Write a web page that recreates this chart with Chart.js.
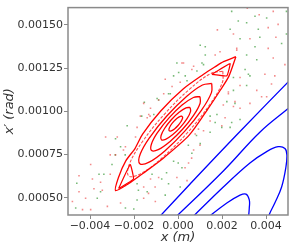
<!DOCTYPE html>
<html>
<head>
<meta charset="utf-8">
<script src="https://cdn.jsdelivr.net/npm/chart.js@4.4.1/dist/chart.umd.min.js"></script>
<style>
html, body { margin: 0; padding: 0; background: #fff; }
#wrap { width: 293px; height: 251px; }
</style>
</head>
<body>
<div id="wrap"><canvas id="phase" width="293" height="251"></canvas></div>
<script>
// axis ticks
var xTicks = [-0.004, -0.002, 0, 0.002, 0.004];
var yTicks = [0.0005, 0.00075, 0.001, 0.00125, 0.0015];

// red nested rings (x in m, x' in rad)
var ring1X = [0.000197, 0.000209, 0.000137, 0.000002, -0.000160, -0.000306, -0.000397, -0.000409, -0.000337, -0.000202, -0.000040, 0.000106];
var ring1Y = [0.000971, 0.000960, 0.000941, 0.000918, 0.000898, 0.000887, 0.000887, 0.000898, 0.000918, 0.000940, 0.000960, 0.000971];
var ring2X = [0.000554, 0.000569, 0.000404, 0.000104, -0.000250, -0.000564, -0.000754, -0.000769, -0.000604, -0.000304, 0.000050, 0.000364];
var ring2Y = [0.001022, 0.000998, 0.000956, 0.000907, 0.000864, 0.000838, 0.000836, 0.000860, 0.000902, 0.000951, 0.000994, 0.001020];
var ring3X = [0.001000, 0.001006, 0.000716, 0.000207, -0.000385, -0.000899, -0.001200, -0.001206, -0.000916, -0.000407, 0.000185, 0.000699];
var ring3Y = [0.001085, 0.001047, 0.000978, 0.000896, 0.000823, 0.000778, 0.000773, 0.000811, 0.000880, 0.000962, 0.001036, 0.001080];
var ring4X = [0.001535, 0.001520, 0.001072, 0.000309, -0.000564, -0.001312, -0.001735, -0.001720, -0.001272, -0.000509, 0.000364, 0.001112];
var ring4Y = [0.001161, 0.001108, 0.001007, 0.000885, 0.000775, 0.000706, 0.000697, 0.000751, 0.000851, 0.000973, 0.001083, 0.001152];
var ring5X = [0.002041, 0.002010, 0.001413, 0.000411, -0.000728, -0.001698, -0.002241, -0.002210, -0.001613, -0.000611, 0.000528, 0.001498];
var ring5Y = [0.001232, 0.001164, 0.001033, 0.000874, 0.000730, 0.000639, 0.000626, 0.000694, 0.000825, 0.000984, 0.001128, 0.001219];
var outerX = [0.002631, 0.002070, 0.001670, 0.001162, 0.000234, -0.000785, -0.001609, -0.001949, -0.002373, -0.002710, -0.002839, -0.002253, -0.001581, -0.000668, 0.000509, 0.001414, 0.001906, 0.002310];
var outerY = [0.001316, 0.001287, 0.001256, 0.001214, 0.001129, 0.001002, 0.000868, 0.000786, 0.000713, 0.000616, 0.000541, 0.000581, 0.000642, 0.000729, 0.000862, 0.001024, 0.001119, 0.001202];
var islandTopX = [0.001539, 0.002367, 0.002217];
var islandTopY = [0.001214, 0.001276, 0.001205];
var islandLowX = [-0.002701, -0.002172, -0.002023];
var islandLowY = [0.000553, 0.000692, 0.000608];

// blue curves, lower right
var blue1X = [-0.00103, 0.00056, 0.00274, 0.00520];
var blue1Y = [0.000364, 0.000581, 0.000873, 0.001195];
var blue2X = [-0.00035, 0.00206, 0.00372, 0.00498, 0.00531];
var blue2Y = [0.000358, 0.000655, 0.000879, 0.001013, 0.001046];
var blue3X = [0.00047, 0.00206, 0.00327, 0.00403, 0.00455, 0.00486, 0.00495, 0.00490, 0.00471, 0.00440, 0.00415, 0.00403];
var blue3Y = [0.000364, 0.000562, 0.000701, 0.000767, 0.000795, 0.000785, 0.000748, 0.000673, 0.000562, 0.000469, 0.000403, 0.000347];
var blue4X = [0.00122, 0.00222, 0.00282, 0.00309, 0.00324, 0.00324, 0.00319];
var blue4Y = [0.000372, 0.000469, 0.000515, 0.000521, 0.000487, 0.000441, 0.000364];

// scattered particles
var greenX = [0.00244, 0.00350, 0.00403, 0.00493, 0.00274, 0.00312, 0.00365, 0.00493, 0.00237, 0.00282,
  0.00372, 0.00471, 0.00350, 0.00101, 0.00124, 0.00312, 0.00358, -0.00005, 0.00109, 0.00305,
  0.00327, -0.00020, -0.00035, 0.00312, 0.00259, 0.00177, 0.00131, 0.00244, 0.00252, 0.00320,
  0.00146, 0.00169, 0.00237, 0.00101, -0.00261, -0.00337, -0.00186, -0.00118, -0.00140, -0.00239,
  -0.00186, -0.00058, -0.00043, 0.00018, 0.00063, -0.00020, 0.00010, -0.00231, -0.00284, -0.00359,
  -0.00460, -0.00367, -0.00465, -0.00201, -0.00352, -0.00153, 0.00003, 0.00086, 0.00033, 0.00041,
  -0.00043, -0.00088, -0.00110, 0.00124, 0.00116, 0.00252, 0.00222, 0.00282, 0.00146, 0.00199,
  -0.00095, -0.00285, -0.00240, -0.00300, -0.00165, -0.00052, -0.00074, -0.00180, 0.00047, 0.00084, 0.00001];
var greenY = [0.001578, 0.001550, 0.001540, 0.001578, 0.001522, 0.001512, 0.001475, 0.001447, 0.001475, 0.001420,
  0.001428, 0.001392, 0.001373, 0.001382, 0.001373, 0.001326, 0.001298, 0.001280, 0.001280, 0.001242,
  0.001205, 0.001205, 0.001102, 0.001149, 0.001046, 0.000981, 0.001009, 0.000935, 0.001196, 0.001214,
  0.000972, 0.000935, 0.000907, 0.000813, 0.000795, 0.000636, 0.000581, 0.000636, 0.000534, 0.000441,
  0.000487, 0.000515, 0.000581, 0.000673, 0.000757, 0.000711, 0.000562, 0.000916, 0.000841, 0.000636,
  0.000584, 0.000497, 0.000441, 0.000435, 0.000534, 0.001052, 0.001224, 0.001233, 0.001205, 0.001177,
  0.001102, 0.001065, 0.000981, 0.001326, 0.001270, 0.001121, 0.001056, 0.000953, 0.000879, 0.000907,
  0.001074, 0.000748, 0.000748, 0.000692, 0.000972, 0.000645, 0.000608, 0.000543, 0.000804, 0.000860, 0.000701];
var redX = [0.00315, 0.00369, 0.00433, 0.00410, 0.00455, 0.00179, 0.00252, 0.00327, 0.00445, 0.00410,
  0.00267, 0.00191, 0.00169, 0.00433, 0.00486, 0.00025, 0.00071, 0.00395, 0.00440, 0.00425,
  0.00282, -0.00058, -0.00088, 0.00358, 0.00403, 0.00327, 0.00229, 0.00282, 0.00214, -0.00156,
  -0.00140, 0.00380, 0.00206, 0.00252, 0.00199, 0.00078, 0.00071, -0.00329, -0.00276, -0.00239,
  -0.00284, -0.00344, -0.00239, -0.00156, -0.00125, -0.00088, -0.00261, -0.00156, -0.00103, -0.00005,
  0.00048, -0.00321, 0.00041, -0.00397, -0.00450, -0.00389, -0.00352, -0.00480, -0.00450, -0.00382,
  -0.00434, -0.00397, -0.00420, -0.00171, -0.00133, -0.00186, 0.00018, 0.00063, -0.00027, 0.00010,
  -0.00125, -0.00193, 0.00267, 0.00229, 0.00282, 0.00259, 0.00146, 0.00116, 0.00093, -0.00065,
  -0.00308, -0.00248, -0.00308, -0.00127, -0.00104, -0.00134, 0.00062, 0.00100, 0.00032];
var redY = [0.001596, 0.001559, 0.001578, 0.001484, 0.001503, 0.001471, 0.001447, 0.001420, 0.001428, 0.001364,
  0.001364, 0.001345, 0.001326, 0.001308, 0.001270, 0.001280, 0.001261, 0.001214, 0.001205, 0.001158,
  0.001196, 0.001186, 0.001065, 0.001121, 0.001084, 0.001046, 0.001112, 0.001018, 0.000963, 0.001046,
  0.000963, 0.001084, 0.001037, 0.001028, 0.000916, 0.000869, 0.000776, 0.000851, 0.000851, 0.000795,
  0.000748, 0.000543, 0.000571, 0.000562, 0.000608, 0.000617, 0.000469, 0.000497, 0.000478, 0.000617,
  0.000701, 0.000450, 0.000599, 0.000692, 0.000627, 0.000608, 0.000589, 0.000478, 0.000534, 0.000552,
  0.000431, 0.000431, 0.000497, 0.000972, 0.000981, 0.000907, 0.001280, 0.001242, 0.001143, 0.001168,
  0.001018, 0.000851, 0.001354, 0.001102, 0.001149, 0.001056, 0.000944, 0.000888, 0.000897, 0.001102,
  0.000748, 0.000776, 0.000636, 0.000972, 0.000562, 0.000525, 0.000729, 0.000804, 0.000673];

function pts(xs, ys) {
  return xs.map(function (v, i) { return { x: v, y: ys[i] }; });
}
function loop(xs, ys) {
  var p = pts(xs, ys);
  p.push(p[0]);
  return p;
}
function curve(data, color, width, tension, order) {
  return {
    data: data, showLine: true, borderColor: color, borderWidth: width,
    pointRadius: 0, tension: tension, fill: false, order: order
  };
}
function dots(data, color, order) {
  return {
    data: data, showLine: false, pointStyle: 'rect', pointRadius: 1.1,
    pointBorderWidth: 0, backgroundColor: color, borderColor: color, order: order
  };
}

var frame = {
  id: 'frame',
  afterDatasetsDraw: function (chart) {
    var a = chart.chartArea, c = chart.ctx;
    c.save();
    c.strokeStyle = '#8a8a8a';
    c.lineWidth = 1.5;
    c.strokeRect(a.left, a.top, a.right - a.left, a.bottom - a.top);
    c.restore();
  }
};

var font = { family: 'DejaVu Sans', size: 11 };
var titleFont = { family: 'DejaVu Sans', size: 13, style: 'italic' };

new Chart(document.getElementById('phase'), {
  type: 'scatter',
  data: {
    datasets: [
      curve(loop(ring1X, ring1Y), '#ff0000', 1.3, 0.4, 1),
      curve(loop(ring2X, ring2Y), '#ff0000', 1.3, 0.4, 1),
      curve(loop(ring3X, ring3Y), '#ff0000', 1.3, 0.4, 1),
      curve(loop(ring4X, ring4Y), '#ff0000', 1.3, 0.4, 1),
      Object.assign(curve(loop(ring5X, ring5Y), 'rgba(255,20,20,0.75)', 1.1, 0.4, 1), { borderDash: [3, 1.5] }),
      curve(loop(outerX, outerY), '#ff0000', 1.3, 0.25, 1),
      curve(loop(islandTopX, islandTopY), '#ff0000', 1.2, 0.1, 1),
      curve(loop(islandLowX, islandLowY), '#ff0000', 1.2, 0.1, 1),
      curve(pts(blue1X, blue1Y), '#0000ff', 1.3, 0.4, 1),
      curve(pts(blue2X, blue2Y), '#0000ff', 1.3, 0.4, 1),
      curve(pts(blue3X, blue3Y), '#0000ff', 1.3, 0.4, 1),
      curve(pts(blue4X, blue4Y), '#0000ff', 1.3, 0.4, 1),
      dots(pts(redX, redY), 'rgba(235,60,60,0.6)', 2),
      dots(pts(greenX, greenY), 'rgba(30,140,30,0.6)', 2)
    ]
  },
  options: {
    responsive: false,
    animation: false,
    devicePixelRatio: 1,
    layout: { padding: { left: 0, top: 1, right: 5, bottom: 0 } },
    plugins: { legend: { display: false }, tooltip: { enabled: false } },
    scales: {
      x: {
        type: 'linear', min: -0.005, max: 0.005,
        afterBuildTicks: function (s) { s.ticks = xTicks.map(function (v) { return { value: v }; }); },
        afterFit: function (s) { s.height = 36; },
        grid: { display: true, drawOnChartArea: false, drawTicks: true, tickLength: 4, tickColor: '#8a8a8a' },
        border: { display: false },
        ticks: {
          autoSkip: false, maxRotation: 0, padding: 1, color: '#333', font: font,
          callback: function (v) { return v.toFixed(3).replace('-', '\u2212'); }
        },
        title: { display: true, text: 'x (m)', color: '#333', font: titleFont, padding: { top: 0, bottom: 6 } }
      },
      y: {
        type: 'linear', min: 0.0004, max: 0.0016,
        afterBuildTicks: function (s) { s.ticks = yTicks.map(function (v) { return { value: v }; }); },
        afterFit: function (s) { s.width = 68; },
        grid: { display: true, drawOnChartArea: false, drawTicks: true, tickLength: 4, tickColor: '#8a8a8a' },
        border: { display: false },
        ticks: {
          autoSkip: false, padding: 1, color: '#333', font: font,
          callback: function (v) { return v.toFixed(5); }
        },
        title: { display: true, text: 'x\u2032 (rad)', color: '#333', font: titleFont, padding: { top: 2, bottom: 0 } }
      }
    }
  },
  plugins: [frame]
});
</script>
</body>
</html>
